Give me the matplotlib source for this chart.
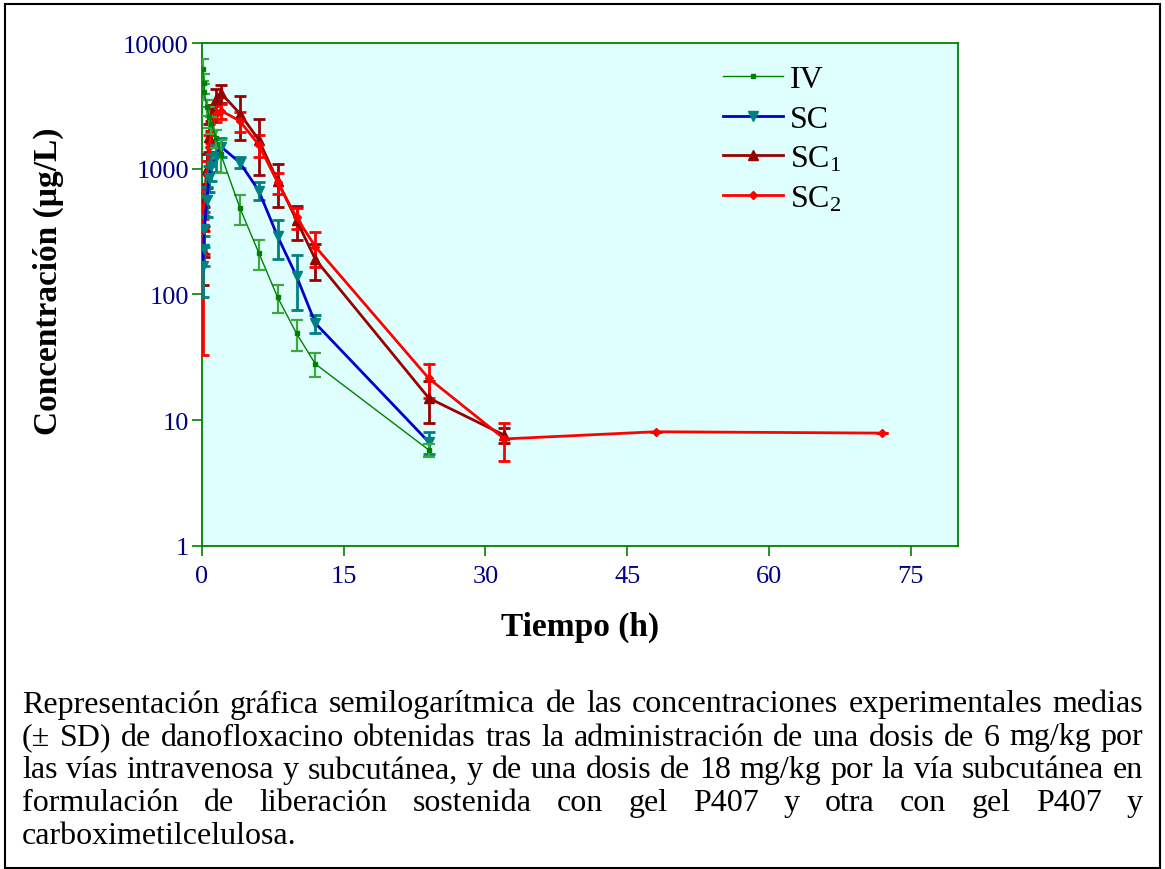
import matplotlib
matplotlib.use("Agg")
import matplotlib.pyplot as plt
from matplotlib.lines import Line2D
from matplotlib.patches import Rectangle

plt.rcParams['font.family'] = ['Liberation Serif', 'DejaVu Serif']
plt.rcParams['mathtext.fontset'] = 'custom'
plt.rcParams['mathtext.rm'] = 'Liberation Serif'
plt.rcParams['mathtext.it'] = 'Liberation Serif:italic'
plt.rcParams['mathtext.bf'] = 'Liberation Serif:bold'

# Sampling times (h)
t_iv = [0.083, 0.167, 0.25, 0.5, 0.75, 1, 1.5, 2, 4, 6, 8, 10, 12, 24]
t_sc = [0.083, 0.167, 0.25, 0.5, 0.75, 1, 1.5, 2, 4, 6, 8, 10, 12, 24]
t_sc1 = [0.083, 0.167, 0.25, 0.5, 0.75, 1, 1.5, 2, 4, 6, 8, 10, 12, 24, 32]
t_sc2 = [0.083, 0.167, 0.25, 0.5, 0.75, 1, 1.5, 2, 4, 6, 8, 10, 12, 24, 32, 48, 72]

# Mean concentrations (ug/L) and SD
iv_mean = [6200, 4800, 4100, 3100, 2600, 2250, 1750, 1300, 490, 215, 95, 49, 28, 5.8]
iv_sd = [1200, 900, 600, 450, 500, 350, 300, 380, 130, 58, 24, 13.5, 6, 0.7]

sc_mean = [170, 230, 330, 560, 850, 1050, 1250, 1500, 1120, 670, 290, 140, 59, 6.7]
sc_sd = [75, 60, 90, 150, 200, 250, 300, 250, 110, 110, 100, 65, 10, 1.3]

sc1_mean = [230, 350, 550, 1000, 1800, 2600, 3600, 4000, 2750, 1700, 800, 390, 190, 15, 7.6]
sc1_sd = [110, 150, 200, 300, 450, 600, 700, 650, 1050, 800, 300, 120, 60, 5.5, 1.0]

sc2_mean = [215, 330, 500, 900, 1500, 2000, 2750, 2900, 2400, 1550, 780, 410, 240, 21.5, 7.1, 8.1, 7.9]
sc2_sd = [182, 120, 180, 250, 350, 400, 400, 400, 450, 300, 150, 80, 75, 6.5, 2.4, 0, 0]

series_labels = ['IV', r'SC', r'SC$_\mathregular{1}$', r'SC$_\mathregular{2}$']

x_ticks = [0, 15, 30, 45, 60, 75]
y_ticks = [1, 10, 100, 1000, 10000]
y_ticklabels = ['1', '10', '100', '1000', '10000']

caption_lines = [
    "Representación gráfica semilogarítmica de las concentraciones experimentales medias",
    "(± SD) de danofloxacino obtenidas tras la administración de una dosis de 6 mg/kg por",
    "las vías intravenosa y subcutánea, y de una dosis de 18 mg/kg por la vía subcutánea en",
    "formulación de liberación sostenida con gel P407 y otra con gel P407 y",
    "carboximetilcelulosa.",
]

fig = plt.figure(figsize=(11.65, 8.7), dpi=100)
ax = fig.add_axes([0.1734, 0.3713, 0.6489, 0.5781])
ax.set_facecolor('#DFFFFF')

green = '#008000'
navy = '#000080'

# IV
ax.errorbar(t_iv, iv_mean, yerr=iv_sd, color=green, lw=1.0, marker='s', ms=3.5,
            mfc=green, mec=green, ecolor='#3DA83D', elinewidth=1.6, capsize=4.5,
            capthick=1.6, zorder=5)
# SC
ax.errorbar(t_sc, sc_mean, yerr=sc_sd, color='#0000CC', lw=2.0, marker='v', ms=7.5,
            mfc='#008080', mec='#008080', ecolor='#008080', elinewidth=2.0, capsize=4.5,
            capthick=2.0, zorder=4)
# SC1
ax.errorbar(t_sc1, sc1_mean, yerr=sc1_sd, color='#990000', lw=2.0, marker='^', ms=7,
            mfc='#990000', mec='#990000', ecolor='#990000', elinewidth=2.0, capsize=4.5,
            capthick=2.0, zorder=3)
# SC2
ax.errorbar(t_sc2, sc2_mean, yerr=sc2_sd, color='#FF0000', lw=2.0, marker='D', ms=4,
            mfc='#FF0000', mec='#FF0000', ecolor='#FF0000', elinewidth=2.0, capsize=4.5,
            capthick=2.0, zorder=3)

ax.set_yscale('log')
ax.set_ylim(1, 10000)
ax.set_xlim(0, 80)
ax.set_xticks(x_ticks)
ax.set_xticklabels([str(v) for v in x_ticks])
ax.set_yticks(y_ticks)
ax.set_yticklabels(y_ticklabels)
ax.minorticks_off()
ax.tick_params(axis='both', direction='out', length=7.5, width=1.2, color=green,
               labelcolor=navy, labelsize=19)
ax.tick_params(axis='x', pad=6)
ax.tick_params(axis='y', pad=2)
for s in ax.spines.values():
    s.set_color(green)
    s.set_linewidth(1.3)

ax.set_xlabel('Tiempo (h)', fontsize=24, fontweight='bold', labelpad=17)
ax.set_ylabel('Concentración (µg/L)', fontsize=24, fontweight='bold')
ax.yaxis.set_label_coords(-0.183, 0.528)

handles = [
    Line2D([], [], color=green, lw=1.0, marker='s', ms=3.5, mfc=green, mec=green),
    Line2D([], [], color='#0000CC', lw=2.0, marker='v', ms=7.5, mfc='#008080', mec='#008080'),
    Line2D([], [], color='#990000', lw=2.0, marker='^', ms=7, mfc='#990000', mec='#990000'),
    Line2D([], [], color='#FF0000', lw=2.0, marker='D', ms=4, mfc='#FF0000', mec='#FF0000'),
]
ax.legend(handles, series_labels, loc='upper left', bbox_to_anchor=(0.672, 0.982),
          frameon=False, fontsize=23, handlelength=1.9, handletextpad=0.2,
          labelspacing=0.32, borderaxespad=0)

# Outer frame of the figure
fig.patches.append(Rectangle((0.0045, 0.001), 0.991, 0.9935, transform=fig.transFigure,
                             fill=False, edgecolor='black', lw=1.5))

# Justified caption text below the chart
renderer = fig.canvas.get_renderer()
left_px, right_px = 22, 1143
line_y_px = [705, 738, 771, 804, 837]
cap_size = 23
for i, line in enumerate(caption_lines):
    words = line.split(' ')
    y = 1 - line_y_px[i] / 870
    texts = [fig.text(0, y, w, fontsize=cap_size, va='center', ha='left') for w in words]
    widths = [t.get_window_extent(renderer).width for t in texts]
    if i < len(caption_lines) - 1 and len(words) > 1:
        gap = (right_px - left_px - sum(widths)) / (len(words) - 1)
    else:
        gap = 6
    x = left_px
    for t, w in zip(texts, widths):
        t.set_x(x / 1165)
        x += w + gap

fig.savefig('out.png', dpi=100)
